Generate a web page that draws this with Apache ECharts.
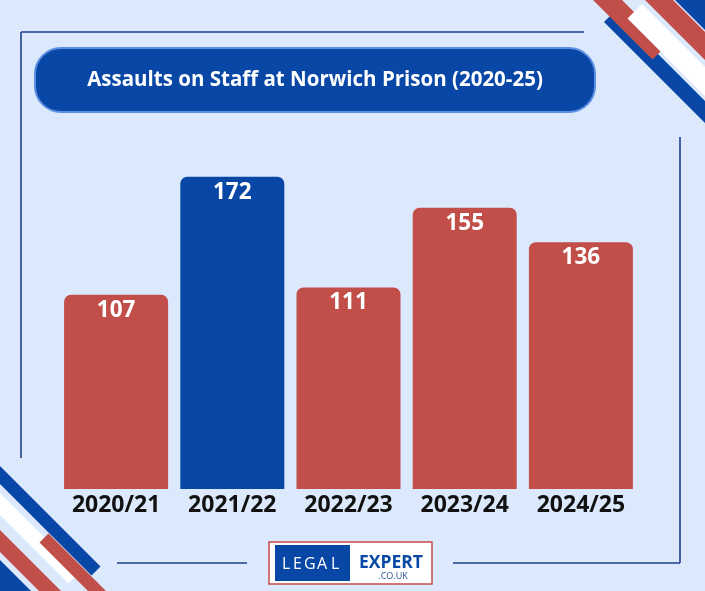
<!DOCTYPE html>
<html>
<head>
<meta charset="utf-8">
<script src="https://cdn.jsdelivr.net/npm/echarts@6/dist/echarts.min.js"></script>
<style>
html,body{margin:0;padding:0;background:#dce9fc;}
#chart{width:705px;height:591px;}
</style>
</head>
<body>
<div id="chart"></div>
<script>
var titleText = 'Assaults on Staff at Norwich Prison (2020-25)';
var categories = ['2020/21', '2021/22', '2022/23', '2023/24', '2024/25'];
var values = [107, 172, 111, 155, 136];
var highlightCategory = '2021/22';

var RED = '#c14e49';
var BLUE = '#0847a6';
var LINE = '#1f3f8c';
var FONT = '"Open Sans", "Noto Sans", sans-serif';

function band(a1, a2, b1, b2) {
  function p(a, b) { return [(a + b) / 2, (b - a) / 2]; }
  return [p(a1, b1), p(a2, b1), p(a2, b2), p(a1, b2)];
}
function poly(points, color) {
  return { type: 'polygon', silent: true, shape: { points: points }, style: { fill: color } };
}
function line(x1, y1, x2, y2) {
  return { type: 'line', silent: true, shape: { x1: x1, y1: y1, x2: x2, y2: y2 }, style: { stroke: LINE, lineWidth: 1.6 } };
}
function letter(ch, x) {
  return {
    type: 'text', silent: true, x: x, y: 564,
    style: { text: ch, fill: '#ffffff', font: '16px ' + FONT, textAlign: 'left', textVerticalAlign: 'middle' }
  };
}

var chart = echarts.init(document.getElementById('chart'), null, { renderer: 'canvas' });

var graphics = [
  // frame lines
  line(21, 32, 584, 32),
  line(21, 32, 21, 458),
  line(680, 137, 680, 563),
  line(117, 563, 247, 563),
  line(453, 563, 680, 563),
  // top-right stripes
  poly(band(645, 673, -20, 1500), RED),
  poly([[675, 0], [705, 0], [705, 30]], BLUE),
  poly(band(582, 604, 626, 1500), BLUE),
  poly(band(593, 622, -20, 712), RED),
  poly(band(609, 638, 646, 1500), '#ffffff'),
  // bottom-left stripes
  poly(band(-484, -466, -100, 667), BLUE),
  poly(band(-515, -493, -100, 652), '#ffffff'),
  poly(band(-503, -485, 582, 1500), RED),
  poly(band(-552, -530, -100, 1500), RED),
  poly([[0, 560], [0, 591], [31, 591]], BLUE),
  // title pill
  {
    type: 'rect', silent: true,
    shape: { x: 35, y: 48, width: 560, height: 64, r: 26 },
    style: { fill: BLUE, stroke: '#5b8fe3', lineWidth: 2 }
  },
  {
    type: 'text', silent: true, x: 315, y: 80,
    style: { text: titleText, fill: '#ffffff', font: 'bold 20.5px ' + FONT, textAlign: 'center', textVerticalAlign: 'middle' }
  },
  // logo
  {
    type: 'rect', silent: true,
    shape: { x: 269, y: 542, width: 163, height: 42 },
    style: { fill: '#ffffff', stroke: '#c8484b', lineWidth: 1.5 }
  },
  {
    type: 'rect', silent: true,
    shape: { x: 275, y: 545, width: 75, height: 36 },
    style: { fill: BLUE }
  },
  letter('L', 282), letter('E', 293), letter('G', 304), letter('A', 317), letter('L', 331),
  {
    type: 'text', silent: true, x: 391, y: 563,
    style: { text: 'EXPERT', fill: BLUE, font: 'bold 17.5px ' + FONT, textAlign: 'center', textVerticalAlign: 'middle' }
  },
  {
    type: 'text', silent: true, x: 393, y: 576,
    style: { text: '.CO.UK', fill: '#2c4f95', font: '9px ' + FONT, textAlign: 'center', textVerticalAlign: 'middle' }
  }
];

var option = {
  backgroundColor: '#dce9fc',
  animation: false,
  grid: { left: 58, right: 66, top: 126, bottom: 102, containLabel: false },
  xAxis: {
    type: 'category',
    data: categories,
    axisLine: { show: false },
    axisTick: { show: false },
    axisLabel: { color: '#111111', fontFamily: FONT, fontWeight: 'bold', fontSize: 23, margin: 5 }
  },
  yAxis: {
    type: 'value', min: 0, max: 200, show: false,
    splitLine: { show: false }
  },
  series: [{
    type: 'bar',
    barWidth: 104,
    data: values.map(function (v, i) {
      return { value: v, itemStyle: { color: categories[i] === highlightCategory ? BLUE : RED } };
    }),
    itemStyle: { borderRadius: [7, 7, 0, 0] },
    label: {
      show: true, position: 'insideTop', distance: 4,
      color: '#ffffff', fontFamily: FONT, fontWeight: 'bold', fontSize: 22.5
    }
  }],
  graphic: graphics
};
chart.setOption(option);
</script>
</body>
</html>
